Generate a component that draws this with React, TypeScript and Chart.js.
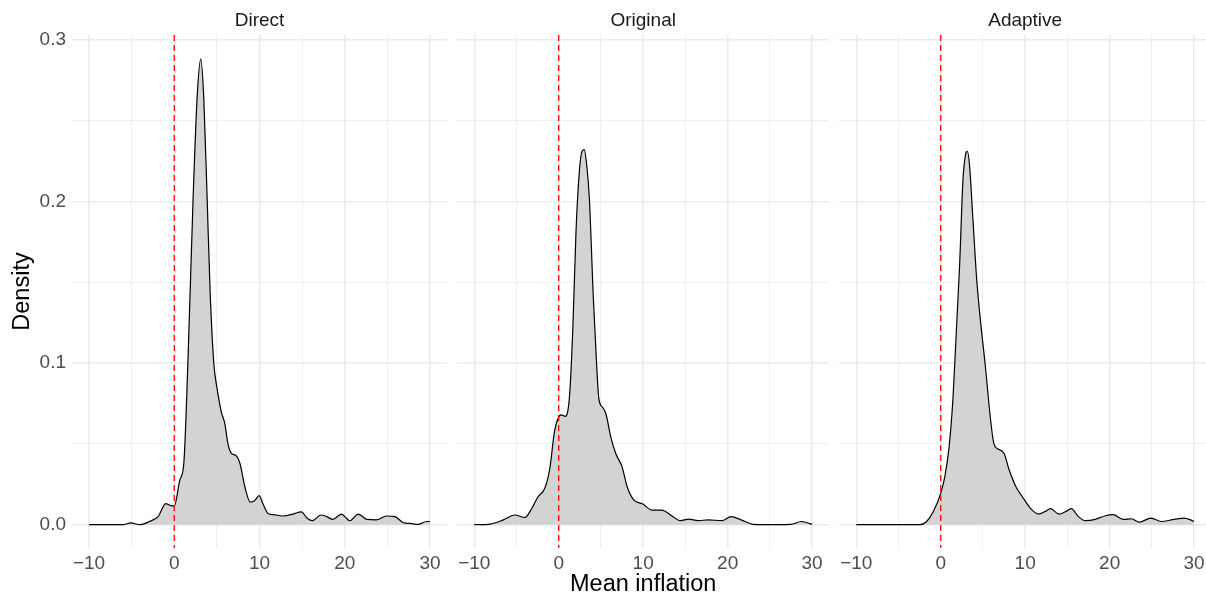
import React, { useEffect, useRef } from "react";
import { Chart, registerables } from "chart.js";

Chart.register(...registerables);

// ---- data ----
const PANEL_TITLES = ["Direct", "Original", "Adaptive"];

const DIRECT_X = [-10, -6, -5.1, -4.05, -2.9, -1.9, -1.0, -0.5, 0, 0.65, 1.12, 1.59, 2.21, 2.68, 3.11, 3.46, 3.85, 4.2, 4.64, 5.0, 5.54, 5.93, 6.3, 6.72, 7.2, 7.7, 8.28, 8.9, 9.45, 9.96, 10.4, 11.0, 12.0, 12.8, 13.95, 14.9, 15.6, 16.2, 17.2, 17.9, 18.6, 19.6, 20.6, 21.6, 22.6, 23.7, 24.9, 25.9, 26.9, 27.65, 28.6, 29.6, 30];
const DIRECT_Y = [0, 0, 0.0012, 0, 0.002, 0.005, 0.013, 0.012, 0.0115, 0.0276, 0.038, 0.099, 0.202, 0.264, 0.288, 0.264, 0.203, 0.145, 0.0997, 0.085, 0.0694, 0.0626, 0.05, 0.044, 0.043, 0.038, 0.0235, 0.014, 0.015, 0.018, 0.013, 0.007, 0.006, 0.0054, 0.0066, 0.008, 0.004, 0.0025, 0.006, 0.005, 0.0033, 0.0066, 0.0025, 0.0066, 0.0033, 0.003, 0.0054, 0.005, 0.0012, 0.0008, 0.0002, 0.002, 0.002];

const ORIGINAL_X = [-10, -8.1, -6.56, -5.2, -4.0, -3.2, -2.45, -1.66, -1.08, -0.49, 0, 0.3, 0.76, 1.27, 1.66, 2.05, 2.45, 2.76, 3.03, 3.3, 3.62, 4.1, 4.48, 4.75, 5.2, 5.58, 6.16, 6.75, 7.5, 8.1, 8.9, 9.9, 11.06, 12.2, 13.4, 14.4, 15.4, 16.5, 17.7, 19.3, 20.4, 21.6, 23.0, 24.0, 27.5, 28.7, 29.45, 30];
const ORIGINAL_Y = [0, 0.0004, 0.003, 0.006, 0.0045, 0.010, 0.0173, 0.0224, 0.034, 0.058, 0.0667, 0.068, 0.067, 0.079, 0.12, 0.182, 0.219, 0.231, 0.232, 0.223, 0.2026, 0.14, 0.0997, 0.078, 0.0725, 0.0688, 0.0543, 0.044, 0.0358, 0.0235, 0.0152, 0.013, 0.009, 0.009, 0.0054, 0.0025, 0.0035, 0.0025, 0.003, 0.0025, 0.005, 0.003, 0.0002, 0, 0.0002, 0.002, 0.0012, 0.0002];

const ADAPTIVE_X = [-10, -2.45, -1.67, -0.89, 0, 0.48, 0.99, 1.46, 1.85, 2.24, 2.63, 2.94, 3.14, 3.4, 3.8, 4.27, 5.25, 6.3, 6.73, 7.5, 8.1, 8.9, 9.67, 10.65, 11.6, 12.3, 13.0, 14.0, 14.75, 15.45, 16.3, 17.1, 18.3, 19.4, 20.4, 21.6, 22.6, 23.5, 24.9, 26.1, 27.65, 28.8, 29.6, 30];
const ADAPTIVE_Y = [0, 0, 0.002, 0.008, 0.0194, 0.0296, 0.048, 0.079, 0.12, 0.161, 0.213, 0.229, 0.231, 0.223, 0.19, 0.151, 0.0997, 0.05, 0.047, 0.044, 0.034, 0.0235, 0.0173, 0.010, 0.0066, 0.008, 0.0099, 0.0066, 0.008, 0.0099, 0.005, 0.0025, 0.0033, 0.0054, 0.0062, 0.0033, 0.0037, 0.0016, 0.0041, 0.002, 0.0033, 0.0041, 0.003, 0.002];

const SERIES_X = [DIRECT_X, ORIGINAL_X, ADAPTIVE_X];
const SERIES_Y = [DIRECT_Y, ORIGINAL_Y, ADAPTIVE_Y];

const X_TICKS = [-10, -5, 0, 5, 10, 15, 20, 25, 30];
const Y_TICKS = [0, 0.05, 0.1, 0.15, 0.2, 0.25, 0.3];
const X_MAJOR_STEP = 10;
const Y_MAJOR_STEP = 0.1;
const X_MIN = -12;
const X_MAX = 32;
const Y_MIN = -0.0144;
const Y_MAX = 0.3029;
const VLINE_X = 0;

const X_TITLE = "Mean inflation";
const Y_TITLE = "Density";

// ---- layout / style ----
const W = 1206;
const H = 594;
const PANEL_LEFT = [0, 454, 836];
const CANVAS_W = [447, 375, 375];
const Y_AXIS_W = [72, 0, 0];
const X_AXIS_H = 46;
const FONT = "'Liberation Sans', Arial, Helvetica, sans-serif";
const GRID = "#EBEBEB";

const isMult = (v: number, step: number) => {
  const r = v / step;
  return Math.abs(r - Math.round(r)) < 1e-6;
};

const vlinePlugin = {
  id: "vline",
  afterDatasetsDraw(chart: any) {
    const { ctx, chartArea, scales } = chart;
    const x = scales.x.getPixelForValue(VLINE_X);
    ctx.save();
    ctx.strokeStyle = "#FF0000";
    ctx.lineWidth = 1.3;
    ctx.setLineDash([6, 4]);
    ctx.beginPath();
    ctx.moveTo(x, chartArea.top);
    ctx.lineTo(x, chartArea.bottom);
    ctx.stroke();
    ctx.restore();
  },
};

function Panel({ idx }: { idx: number }) {
  const ref = useRef<HTMLCanvasElement | null>(null);
  useEffect(() => {
    if (!ref.current) return;
    const xs = SERIES_X[idx];
    const ys = SERIES_Y[idx];
    const data = xs.map((x, i) => ({ x, y: ys[i] }));
    const showY = idx === 0;
    const showXTitle = idx === 1;
    const chart = new Chart(ref.current, {
      type: "line",
      data: {
        datasets: [
          {
            data,
            borderColor: "#000000",
            borderWidth: 1.2,
            backgroundColor: "#D3D3D3",
            fill: "origin",
            pointRadius: 0,
            cubicInterpolationMode: "monotone",
          },
        ],
      },
      options: {
        animation: false,
        responsive: false,
        devicePixelRatio: 1,
        layout: { padding: 0 },
        plugins: {
          legend: { display: false },
          tooltip: { enabled: false },
          title: {
            display: true,
            text: PANEL_TITLES[idx],
            color: "#1A1A1A",
            fullSize: false,
            font: { family: FONT, size: 19, weight: "normal", lineHeight: 1.2 },
            padding: { top: 9.2, bottom: 3 },
          },
        },
        scales: {
          x: {
            type: "linear",
            min: X_MIN,
            max: X_MAX,
            afterBuildTicks: (s: any) => {
              s.ticks = X_TICKS.map((v) => ({ value: v }));
            },
            afterFit: (s: any) => {
              s.height = X_AXIS_H;
            },
            border: { display: false },
            grid: {
              drawTicks: false,
              color: GRID,
              lineWidth: (c: any) => (isMult(c.tick.value, X_MAJOR_STEP) ? 1.5 : 0.8),
            },
            ticks: {
              autoSkip: false,
              maxRotation: 0,
              padding: 4,
              color: "#4D4D4D",
              font: { family: FONT, size: 19 },
              callback: (v: any) =>
                isMult(Number(v), X_MAJOR_STEP) ? String(v).replace("-", "\u2212") : "",
            },
            title: {
              display: showXTitle,
              text: X_TITLE,
              color: "#000000",
              font: { family: FONT, size: 23.5, lineHeight: 1 },
              padding: { top: 0, bottom: -2 },
            },
          },
          y: {
            type: "linear",
            min: Y_MIN,
            max: Y_MAX,
            afterBuildTicks: (s: any) => {
              s.ticks = Y_TICKS.map((v) => ({ value: v }));
            },
            afterFit: (s: any) => {
              s.width = Y_AXIS_W[idx];
            },
            border: { display: false },
            grid: {
              drawTicks: false,
              color: GRID,
              lineWidth: (c: any) => (isMult(c.tick.value, Y_MAJOR_STEP) ? 1.5 : 0.8),
            },
            ticks: {
              display: showY,
              padding: 6,
              color: "#4D4D4D",
              font: { family: FONT, size: 19 },
              callback: (v: any) => (isMult(Number(v), Y_MAJOR_STEP) ? Number(v).toFixed(1) : ""),
            },
            title: {
              display: showY,
              text: Y_TITLE,
              color: "#000000",
              font: { family: FONT, size: 23.5, lineHeight: 1.2 },
              padding: { top: 8.4, bottom: 0 },
            },
          },
        },
      },
      plugins: [vlinePlugin],
    } as any);
    return () => chart.destroy();
  }, [idx]);
  return (
    <canvas
      ref={ref}
      width={CANVAS_W[idx]}
      height={H}
      style={{
        position: "absolute",
        left: PANEL_LEFT[idx],
        top: 0,
        width: CANVAS_W[idx],
        height: H,
      }}
    />
  );
}

export default function App() {
  return (
    <div
      style={{
        position: "absolute",
        left: 0,
        top: 0,
        width: W,
        height: H,
        overflow: "hidden",
        background: "#FFFFFF",
      }}
    >
      {PANEL_TITLES.map((_, i) => (
        <Panel key={i} idx={i} />
      ))}
    </div>
  );
}
